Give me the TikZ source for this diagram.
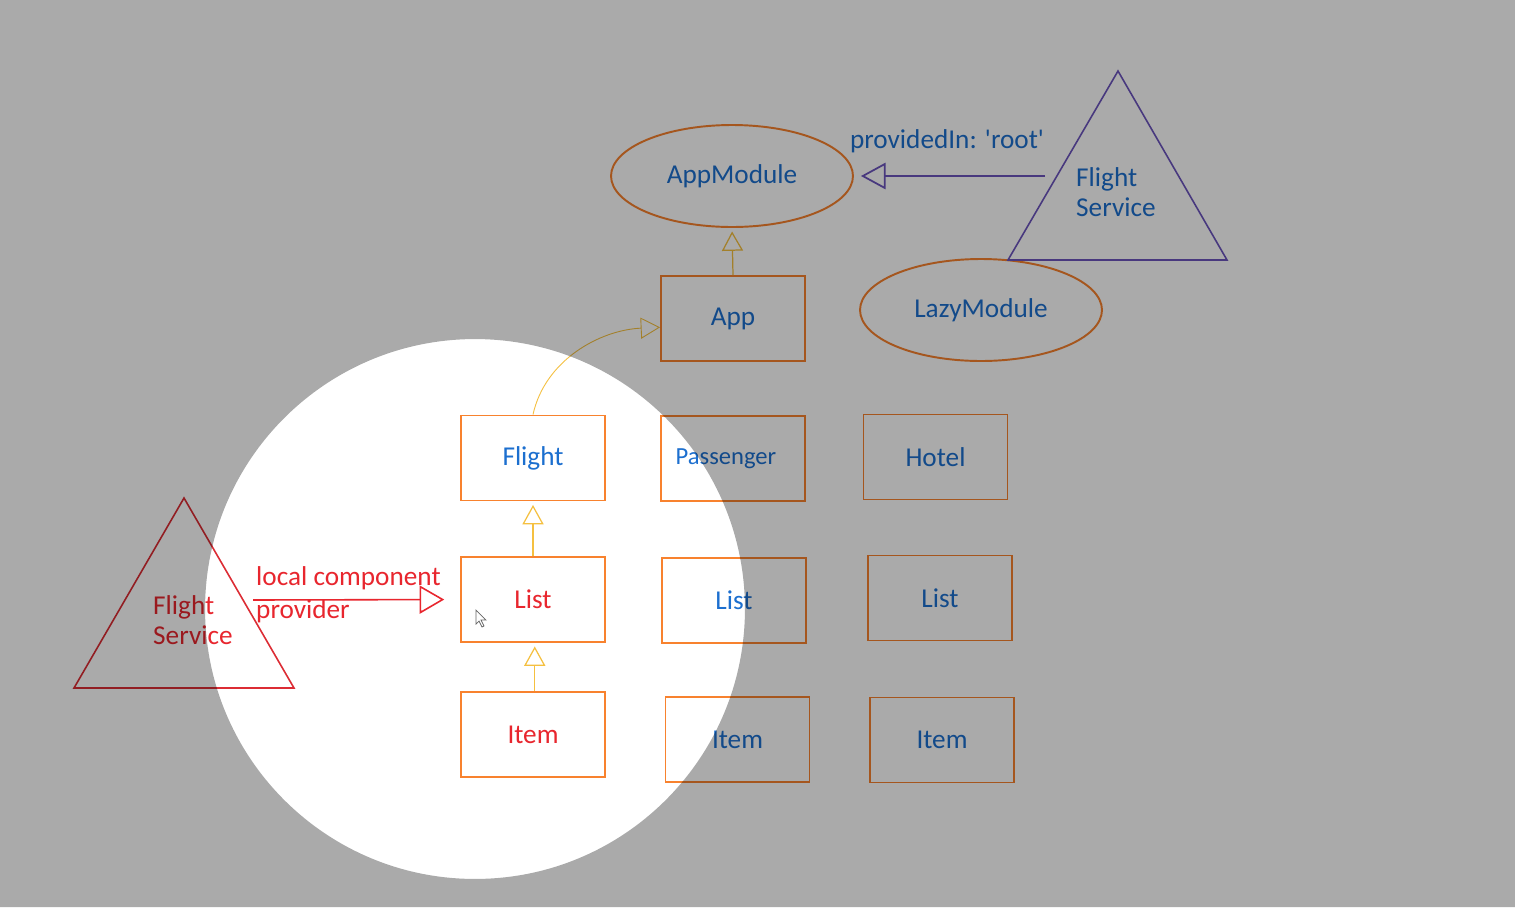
\documentclass[tikz,border=0pt]{standalone}
\usepackage{fontspec}
\setmainfont{Carlito}
\usetikzlibrary{arrows.meta,shapes.geometric}
\definecolor{boxorange}{HTML}{F8822E}
\definecolor{txtblue}{HTML}{1C6FCF}
\definecolor{txtred}{HTML}{E8262E}
\definecolor{arrowyellow}{HTML}{F5C040}
\definecolor{purp}{HTML}{6C55BE}
\definecolor{trired}{HTML}{DC2C34}
\tikzset{
  lbl/.style={font=\fontsize{15.5}{18}\selectfont},
  stepbox/.style={draw=boxorange, line width=1.1pt, minimum width=2.88cm, minimum height=1.7cm, inner sep=0pt, lbl},
  modell/.style={draw=boxorange, line width=1.1pt, ellipse, minimum width=4.84cm, minimum height=2.04cm, inner sep=0pt, lbl, text=txtblue},
  yarrow/.style={draw=arrowyellow, line width=0.7pt, -{Triangle[open, length=11pt, width=12pt]}},
}
\begin{document}
\begin{tikzpicture}[x=0.02cm, y=-0.02cm]
\useasboundingbox (0,0) rectangle (1515,907);
\fill[white] (0,0) rectangle (1515,907);

% modules
\node[modell] (appmodule) at (732,176) {AppModule};
\node[modell] (lazymodule) at (981,310) {LazyModule};

% boxes
\node[stepbox, text=txtblue] (app) at (733,318.5) {App};
\node[stepbox, text=txtblue] (flight) at (533,458) {Flight};
\node[stepbox, text=txtred] (list1) at (533,599.5) {List};
\node[stepbox, text=txtred] (item1) at (533,734.5) {Item};
\node[stepbox, text=txtblue, font=\fontsize{14}{16}\selectfont] (passenger) at (733,458.5) {Passenger\hspace*{8pt}};
\node[stepbox, text=txtblue] (list2) at (734,600.5) {List};
\node[stepbox, text=txtblue] (item2) at (737.5,739.5) {Item};
\node[stepbox, text=txtblue] (hotel) at (935.5,457) {Hotel};
\node[stepbox, text=txtblue] (list3) at (940,598) {List};
\node[stepbox, text=txtblue] (item3) at (942,740) {Item};

% top triangle (root service)
\coordinate (ta) at (1118,71);
\coordinate (tb) at (1008,260);
\coordinate (tc) at (1227,260);
\draw[purp, line width=0.9pt] (ta) -- (tb) -- (tc) -- cycle;
\node[lbl, text=txtblue, align=left, anchor=west] (fsroot) at (1070,192) {Flight\\[-1pt]Service};
\coordinate (rootstart) at (1045,176);
\draw[purp, line width=1pt, -{Triangle[open, length=14pt, width=15pt]}, shorten >=4pt] (rootstart) -- (appmodule.east);
\node[lbl, text=txtblue] (provlbl) at (947,141) {providedIn: \textquotesingle root\textquotesingle};

% left triangle (local service)
\coordinate (la) at (184,498);
\coordinate (lb) at (74,688);
\coordinate (lc) at (294,688);
\draw[trired, line width=0.9pt] (la) -- (lb) -- (lc) -- cycle;
\node[lbl, text=txtred, align=left, anchor=west] (fslocal) at (147,620) {Flight\\[-1pt]Service};
\coordinate (localstart) at (253,600);
\draw[txtred, line width=0.9pt, -{Triangle[open, length=14pt, width=16pt]}, shorten >=9pt] (localstart) -- (list1.west);
\node[lbl, text=txtred, anchor=west] (loclbl1) at (250,578) {local component};
\node[lbl, text=txtred, anchor=west] (loclbl2) at (250,611) {provider};

% yellow arrows
\draw[yarrow, shorten >=2pt] (app.north) -- (appmodule.south);
\draw[yarrow, shorten >=2pt] (list1.north) -- (flight.south);
\draw[yarrow, shorten >=2pt] ([xshift=1pt]item1.north) -- ([xshift=1pt]list1.south);
\draw[yarrow, line width=0.5pt] (flight.north) .. controls (545,360) and (600,330) .. ([yshift=-5pt]app.west);

% cursor
\coordinate (cur) at (476,610);
\draw[fill=white, draw=black!60, line width=0.4pt] (cur) -- ++(0,14) -- ++(3,-3) -- ++(3,6) -- ++(2,-1) -- ++(-3,-6) -- ++(5,0) -- cycle;

% dimming outside spotlight
\fill[black, opacity=0.333, even odd rule] (0,0) rectangle (1515,907) (475,609) circle [radius=5.4cm];
\end{tikzpicture}
\end{document}
